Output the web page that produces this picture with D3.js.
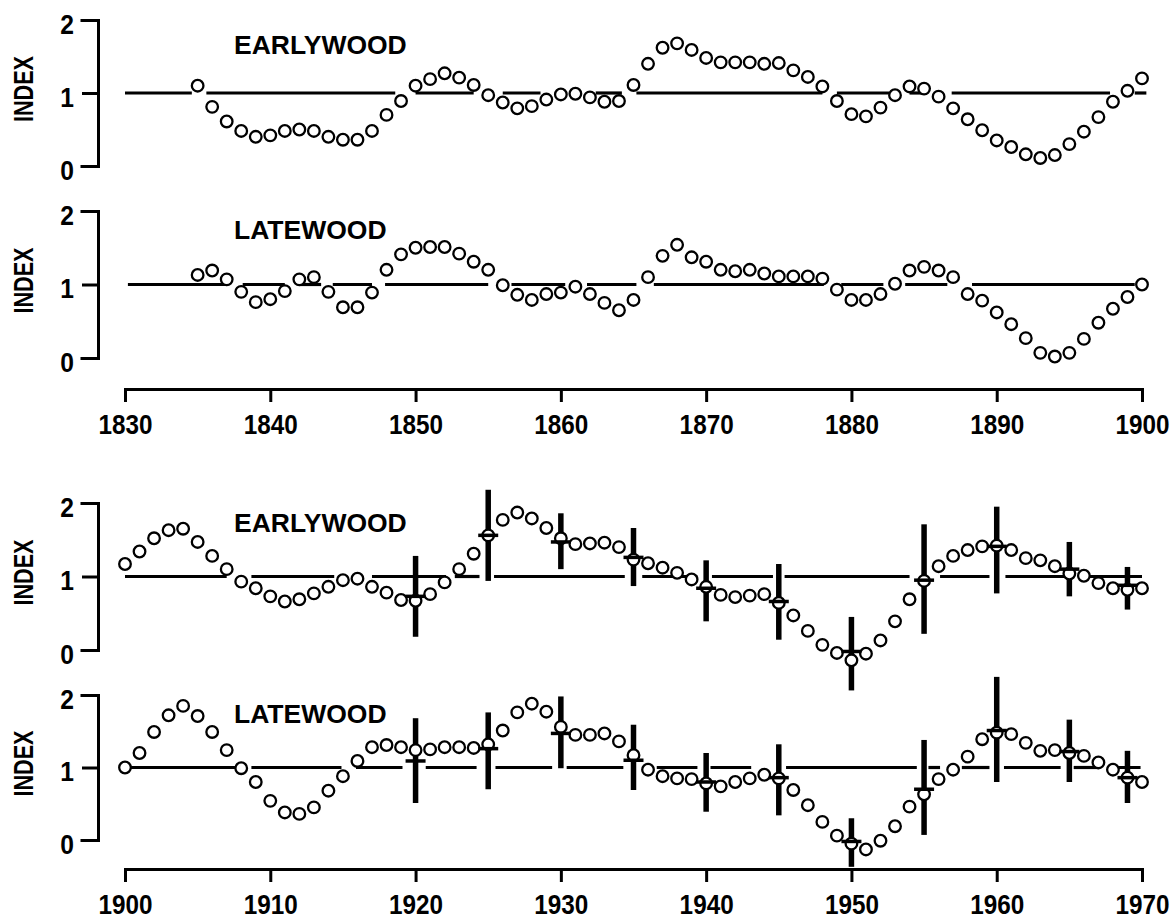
<!DOCTYPE html>
<html>
<head>
<meta charset="utf-8">
<script src="https://cdn.jsdelivr.net/npm/d3@7/dist/d3.min.js"></script>
<style>
  body { margin: 0; background: #fff; }
  svg { display: block; }
  text { font-family: "Liberation Sans", Arial, Helvetica, sans-serif; font-weight: bold; fill: #000; }
</style>
</head>
<body>
<svg id="vis1"></svg>
<script>
// ---- data ----
const topStartYear = 1835;   // first plotted year, upper pair
const botStartYear = 1900;   // first plotted year, lower pair
const topYears = [1830, 1840, 1850, 1860, 1870, 1880, 1890, 1900];
const botYears = [1900, 1910, 1920, 1930, 1940, 1950, 1960, 1970];
const indexTicks = [0, 1, 2];

// earlywood 1835-1900
const earlyTop = [1.10, 0.81, 0.61, 0.48, 0.40, 0.42, 0.48, 0.50, 0.48, 0.40,
  0.36, 0.36, 0.48, 0.70, 0.89, 1.10, 1.19, 1.27, 1.21, 1.11,
  0.97, 0.87, 0.79, 0.82, 0.91, 0.98, 0.99, 0.94, 0.88, 0.89,
  1.11, 1.40, 1.62, 1.68, 1.59, 1.48, 1.42, 1.42, 1.42, 1.40,
  1.41, 1.31, 1.22, 1.09, 0.89, 0.71, 0.68, 0.80, 0.97, 1.09,
  1.06, 0.95, 0.79, 0.64, 0.49, 0.35, 0.26, 0.16, 0.11, 0.15,
  0.30, 0.47, 0.67, 0.88, 1.03, 1.20];

// latewood 1835-1900
const lateTop = [1.13, 1.19, 1.07, 0.90, 0.76, 0.80, 0.91, 1.07, 1.10, 0.90,
  0.69, 0.69, 0.89, 1.20, 1.41, 1.50, 1.51, 1.51, 1.42, 1.31,
  1.20, 0.99, 0.86, 0.79, 0.87, 0.89, 0.97, 0.87, 0.75, 0.65,
  0.79, 1.10, 1.39, 1.54, 1.37, 1.31, 1.20, 1.18, 1.20, 1.15,
  1.11, 1.11, 1.11, 1.08, 0.93, 0.79, 0.79, 0.87, 1.01, 1.19,
  1.24, 1.19, 1.10, 0.87, 0.78, 0.62, 0.46, 0.27, 0.07, 0.02,
  0.07, 0.26, 0.48, 0.67, 0.83, 1.00];

// earlywood 1900-1970
const earlyBot = [1.17, 1.34, 1.52, 1.63, 1.65, 1.47, 1.28, 1.10, 0.93, 0.84,
  0.73, 0.66, 0.69, 0.77, 0.86, 0.95, 0.97, 0.86, 0.78, 0.68,
  0.67, 0.76, 0.92, 1.10, 1.31, 1.56, 1.77, 1.87, 1.79, 1.66,
  1.52, 1.44, 1.45, 1.46, 1.40, 1.23, 1.18, 1.12, 1.05, 0.96,
  0.86, 0.75, 0.72, 0.74, 0.76, 0.64, 0.47, 0.26, 0.07, -0.04,
  -0.14, -0.05, 0.13, 0.39, 0.69, 0.94, 1.14, 1.28, 1.36, 1.41,
  1.42, 1.36, 1.25, 1.22, 1.14, 1.04, 1.01, 0.91, 0.84, 0.82, 0.84];

// latewood 1900-1970
const lateBot = [1.00, 1.20, 1.49, 1.72, 1.85, 1.71, 1.49, 1.24, 0.99, 0.80,
  0.54, 0.38, 0.36, 0.45, 0.68, 0.88, 1.09, 1.28, 1.31, 1.28,
  1.24, 1.25, 1.28, 1.28, 1.27, 1.32, 1.51, 1.76, 1.88, 1.77,
  1.56, 1.45, 1.45, 1.47, 1.36, 1.17, 0.97, 0.88, 0.85, 0.84,
  0.78, 0.74, 0.80, 0.85, 0.90, 0.85, 0.69, 0.48, 0.25, 0.06,
  -0.05, -0.13, -0.01, 0.19, 0.46, 0.63, 0.84, 0.97, 1.15, 1.39,
  1.48, 1.46, 1.34, 1.23, 1.24, 1.20, 1.16, 1.07, 0.97, 0.86, 0.80];

// reference line (index = 1) pieces, [from year, to year]
const earlyTopRef = [[1830, 1834.6], [1835.6, 1848.6], [1850, 1854], [1856, 1858.6],
  [1862.4, 1864.2], [1865.2, 1878], [1879, 1882.6], [1884, 1885.2], [1886.9, 1897.8], [1899.5, 1900.3]];
const lateTopRef = [[1830.2, 1837], [1838.1, 1841], [1842, 1843.5], [1844.3, 1847],
  [1847.9, 1855], [1856.6, 1860.3], [1861.8, 1865.2], [1866.4, 1878.1], [1879.3, 1882.2],
  [1883.7, 1886.6], [1888.3, 1899.5]];
const earlyBotRef = [[1900, 1907], [1908.7, 1914.4], [1917, 1922.1], [1922.7, 1924.4],
  [1925.4, 1934.4], [1935.6, 1939.4], [1940.4, 1944.6], [1945.4, 1954], [1956.1, 1959.5],
  [1960.6, 1964.7], [1966.1, 1970]];
const lateBotRef = [[1900.1, 1907.7], [1908.7, 1914.9], [1915.9, 1919.1], [1920.7, 1924.2],
  [1925.5, 1929.4], [1930.4, 1934.3], [1936.6, 1939.4], [1940.3, 1943.1], [1945.5, 1954.5],
  [1955.3, 1956.1], [1957.6, 1959.5], [1960.5, 1964.4], [1965.3, 1967.0], [1967.7, 1969.9]];

// error bars, lower pair
const barYears = [1920, 1925, 1930, 1935, 1940, 1945, 1950, 1955, 1960, 1965, 1969];
const earlyBarLow = [0.18, 0.94, 1.10, 0.87, 0.39, 0.14, -0.55, 0.22, 0.77, 0.73, 0.55];
const earlyBarMid = [0.73, 1.56, 1.47, 1.26, 0.84, 0.66, -0.02, 0.95, 1.41, 1.10, 0.88];
const earlyBarHigh = [1.28, 2.18, 1.86, 1.66, 1.22, 1.17, 0.45, 1.71, 1.95, 1.47, 1.13];
const lateBarLow = [0.51, 0.70, 0.99, 0.69, 0.39, 0.34, -0.37, 0.07, 0.80, 0.80, 0.51];
const lateBarMid = [1.09, 1.26, 1.47, 1.10, 0.80, 0.86, -0.02, 0.70, 1.51, 1.22, 0.86];
const lateBarHigh = [1.68, 1.76, 1.98, 1.59, 1.20, 1.32, 0.30, 1.38, 2.25, 1.66, 1.23];

setupVis();


function setupVis() {

    const WIDTH = 1173;
    const HEIGHT = 921;
    const LEFT = 125, RIGHT = 1142;   // x range of both time axes
    const YAXIS = 98;
    const R = 5.8;

    let svg = d3.select("#vis1")
        .attr("width", WIDTH)
        .attr("height", HEIGHT);

    const xTop = d3.scaleLinear().domain([1830, 1900]).range([LEFT, RIGHT]);
    const xBot = d3.scaleLinear().domain([1900, 1970]).range([LEFT, RIGHT]);

    // panel layout: pixel rows for 0 and 2, label baseline
    const panels = [
        {name: "EARLYWOOD", x: xTop, start: topStartYear, vals: earlyTop, ref: earlyTopRef, y0: 166, y2: 20, labelY: 54},
        {name: "LATEWOOD", x: xTop, start: topStartYear, vals: lateTop, ref: lateTopRef, y0: 358, y2: 211, labelY: 239},
        {name: "EARLYWOOD", x: xBot, start: botStartYear, vals: earlyBot, ref: earlyBotRef, y0: 650, y2: 503, labelY: 532,
            bars: {lo: earlyBarLow, mid: earlyBarMid, hi: earlyBarHigh}},
        {name: "LATEWOOD", x: xBot, start: botStartYear, vals: lateBot, ref: lateBotRef, y0: 840, y2: 695, labelY: 723,
            bars: {lo: lateBarLow, mid: lateBarMid, hi: lateBarHigh}}
    ];

    panels.forEach(function(p) {
        const x = p.x;
        const y = d3.scaleLinear().domain([0, 2]).range([p.y0, p.y2]);
        const g = svg.append("g");

        // y axis bracket
        const yAxis = g.append("g")
            .attr("transform", "translate(" + YAXIS + ",0)")
            .call(d3.axisLeft(y).tickValues(indexTicks).tickFormat(d3.format("d"))
                .tickSize(16).tickSizeOuter(16).tickPadding(8));
        yAxis.select(".domain").attr("stroke-width", 3).attr("stroke-linecap", "square");
        yAxis.selectAll(".tick line").attr("stroke-width", 3);
        yAxis.selectAll("text")
            .attr("x", null)
            .attr("dy", 13)
            .attr("transform", "translate(-24,0) scale(0.88,1)")
            .style("font-size", "28px");

        g.append("text")
            .attr("transform", "translate(23," + (y(1) - 4) + ") rotate(-90) scale(0.8,1)")
            .attr("text-anchor", "middle")
            .attr("dy", "0.36em")
            .style("font-size", "27px")
            .text("INDEX");

        g.append("text")
            .attr("x", 234)
            .attr("y", p.labelY)
            .style("font-size", "26.5px")
            .text(p.name);

        // reference line at index 1
        g.selectAll(".ref")
            .data(p.ref)
            .enter()
            .append("line")
            .attr("x1", d => x(d[0]))
            .attr("x2", d => x(d[1]))
            .attr("y1", y(1))
            .attr("y2", y(1))
            .attr("stroke", "#000")
            .attr("stroke-width", 3.2);

        // vertical error bars
        if (p.bars) {
            g.selectAll(".bar")
                .data(barYears)
                .enter()
                .append("line")
                .attr("x1", d => x(d))
                .attr("x2", d => x(d))
                .attr("y1", (d, i) => y(p.bars.lo[i]))
                .attr("y2", (d, i) => y(p.bars.hi[i]))
                .attr("stroke", "#000")
                .attr("stroke-width", 5.5);
        }

        g.selectAll("circle")
            .data(p.vals)
            .enter()
            .append("circle")
            .attr("cx", (d, i) => x(p.start + i))
            .attr("cy", d => y(d))
            .attr("r", R)
            .attr("fill", "#fff")
            .attr("stroke", "#000")
            .attr("stroke-width", 2.3);

        // crossbars at the bar centre
        if (p.bars) {
            g.selectAll(".mid")
                .data(barYears)
                .enter()
                .append("line")
                .attr("x1", d => x(d) - 10)
                .attr("x2", d => x(d) + 10)
                .attr("y1", (d, i) => y(p.bars.mid[i]))
                .attr("y2", (d, i) => y(p.bars.mid[i]))
                .attr("stroke", "#000")
                .attr("stroke-width", 3.5);
        }
    });

    // time axes
    function timeAxis(scale, ticks, ypos) {
        const ax = svg.append("g")
            .attr("transform", "translate(0," + ypos + ")")
            .call(d3.axisBottom(scale).tickValues(ticks).tickFormat(d3.format("d"))
                .tickSize(13).tickSizeOuter(13).tickPadding(13));
        ax.select(".domain").attr("stroke-width", 3);
        ax.selectAll(".tick line").attr("stroke-width", 3);
        ax.selectAll("text")
            .attr("transform", "scale(0.9,1)")
            .style("font-size", "27px");
    }
    timeAxis(xTop, topYears, 389);
    timeAxis(xBot, botYears, 869);
}
</script>
</body>
</html>
